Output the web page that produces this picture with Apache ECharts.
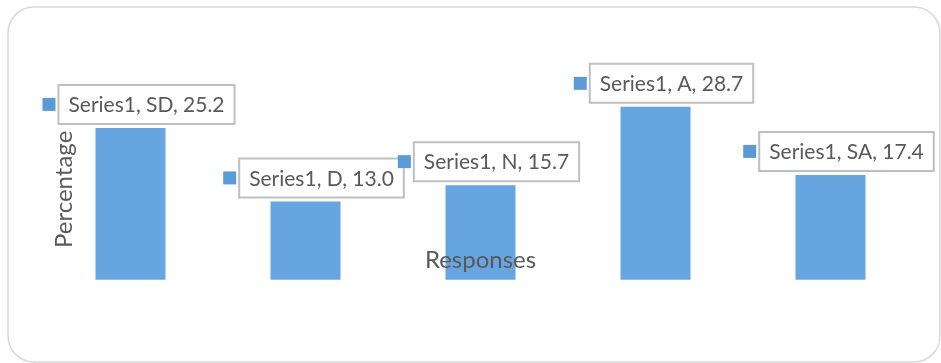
<!DOCTYPE html>
<html>
<head>
<meta charset="utf-8">
<script src="https://cdn.jsdelivr.net/npm/echarts@6/dist/echarts.min.js"></script>
<style>
html,body{margin:0;padding:0;background:#fff;}
#c{width:941px;height:363px;}
</style>
</head>
<body>
<div id="c"></div>
<script>
const seriesName = 'Series1';
const categories = ['SD', 'D', 'N', 'A', 'SA'];
const values = [25.2, 13.0, 15.7, 28.7, 17.4];
const xAxisTitle = 'Responses';
const yAxisTitle = 'Percentage';

const FONT = 'Lato';
const TXT = '#595959';

const chart = echarts.init(document.getElementById('c'), null, {renderer: 'canvas'});
chart.setOption({
  animation: false,
  backgroundColor: '#fff',
  graphic: [{
    type: 'rect',
    silent: true,
    shape: {x: 8, y: 7, width: 932, height: 355, r: 26},
    style: {fill: 'none', stroke: '#d9d9d9', lineWidth: 1.5},
    z: -1
  }],
  grid: {left: 43, right: 23, top: 99, bottom: 83.3, containLabel: false},
  xAxis: {
    type: 'category',
    data: categories,
    name: xAxisTitle,
    nameLocation: 'middle',
    nameGap: -31,
    z: 10,
    nameTextStyle: {fontFamily: FONT, fontSize: 24, color: TXT},
    axisLine: {show: false},
    axisTick: {show: false},
    axisLabel: {show: false},
    splitLine: {show: false}
  },
  yAxis: {
    type: 'value',
    min: 0,
    max: 30,
    interval: 5,
    name: yAxisTitle,
    nameLocation: 'middle',
    nameGap: -33,
    nameRotate: 90,
    z: 10,
    nameTextStyle: {fontFamily: FONT, fontSize: 24, color: TXT},
    axisLine: {show: false},
    axisTick: {show: false},
    axisLabel: {show: false},
    splitLine: {show: false}
  },
  series: [{
    name: seriesName,
    type: 'bar',
    data: values,
    barWidth: 70,
    itemStyle: {color: '#66a5e0'},
    label: {
      show: true,
      position: 'top',
      distance: 10,
      offset: [7.5, 0],
      formatter: function (p) {
        return '{k|}{g|}{b|' + p.seriesName + ', ' + p.name + ', ' + p.value.toFixed(1) + '}';
      },
      rich: {
        k: {width: 13, height: 13, backgroundColor: '#5b9bd5'},
        g: {width: 4, height: 13},
        b: {
          fontFamily: FONT,
          fontSize: 21,
          color: TXT,
          lineHeight: 27,
          height: 27,
          padding: [6, 9, 4, 9],
          borderColor: '#bfbfbf',
          borderWidth: 2,
          backgroundColor: '#fff'
        }
      }
    }
  }]
});
</script>
</body>
</html>
